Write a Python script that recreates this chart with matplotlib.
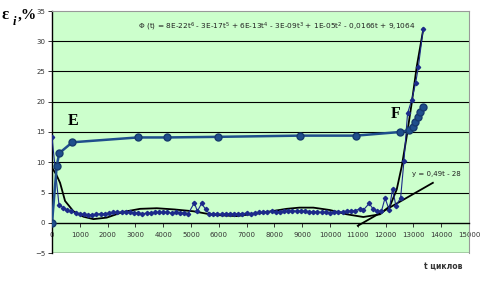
import numpy as np
import matplotlib
matplotlib.use("Agg")
import matplotlib.pyplot as plt

plt.rcParams['mathtext.default'] = 'regular'

# curve E (big markers)
e_t = [0, 170, 260, 730, 3080, 4130, 5970, 8920, 10940, 12520, 12850, 12990, 13060, 13170, 13250, 13345]
e_v = [0, 9.4, 11.5, 13.3, 14.1, 14.1, 14.2, 14.4, 14.4, 15.0, 15.3, 15.8, 16.6, 17.5, 18.3, 19.2]

# dense series (small markers)
s_t = [0, 250, 400, 550, 700, 850, 1000, 1150, 1300, 1450, 1600, 1750, 1900, 2050, 2200,
       2350, 2500, 2650, 2800, 2950, 3100, 3250, 3400, 3550, 3700, 3850, 4000, 4150, 4300,
       4450, 4600, 4750, 4900, 5120, 5230, 5380, 5530, 5660, 5800, 5950, 6100, 6250, 6400,
       6550, 6700, 6850, 7000, 7150, 7300, 7450, 7600, 7750, 7900, 8050, 8200, 8350, 8500,
       8650, 8800, 8950, 9100, 9250, 9400, 9550, 9700, 9850, 10000, 10150, 10300, 10450,
       10600, 10750, 10900, 11080, 11200, 11410, 11560, 11700, 11850, 11980, 12130, 12250,
       12370, 12540, 12660, 12790, 12940, 13080, 13180, 13350]
s_v = [14.1, 3.0, 2.5, 2.1, 1.9, 1.6, 1.4, 1.4, 1.3, 1.3, 1.4, 1.5, 1.5, 1.6, 1.7,
       1.7, 1.8, 1.7, 1.7, 1.6, 1.6, 1.5, 1.6, 1.6, 1.7, 1.7, 1.7, 1.7, 1.6,
       1.7, 1.6, 1.6, 1.5, 3.3, 1.9, 3.2, 2.2, 1.5, 1.4, 1.5, 1.4, 1.5, 1.5,
       1.4, 1.5, 1.5, 1.6, 1.5, 1.6, 1.7, 1.7, 1.8, 1.9, 1.8, 1.8, 1.9, 1.9,
       2.0, 1.9, 1.9, 1.9, 1.8, 1.8, 1.8, 1.7, 1.7, 1.6, 1.7, 1.8, 1.8,
       1.9, 1.9, 2.0, 2.3, 2.1, 3.2, 2.2, 1.9, 1.9, 4.1, 2.1, 5.6,
       2.8, 4.1, 10.2, 18.1, 20.3, 23.1, 25.8, 32.0]

# polynomial trend curve Phi(t)
p_t = [0, 150, 290, 470, 770, 1130, 1490, 1970, 2570, 3170, 3770, 4400, 5080, 5800, 6640,
       7480, 8440, 8900, 9400, 10000, 10600, 11200, 11800, 12160, 12400, 12580, 12760,
       12940, 13120, 13360]
p_v = [9.1, 8.0, 6.6, 3.6, 1.9, 1.0, 0.6, 0.85, 1.8, 2.3, 2.4, 2.2, 1.9, 1.3, 1.1,
       1.6, 2.3, 2.5, 2.5, 2.1, 1.4, 0.95, 1.4, 2.8, 5.5, 9.3, 14.3, 19.8, 25.8, 32.1]

# linear trend
l_t = [11000, 13700]
l_v = [-0.5, 6.6]

y_ticks = [-5, 0, 5, 10, 15, 20, 25, 30, 35]
x_ticks = list(range(0, 15001, 1000))

fig = plt.figure(figsize=(4.84, 2.82), dpi=100)
ax = fig.add_axes([52/484, 29/282, 417/484, 242/282])
ax.set_facecolor('#ccffcc')

for yv in [5, 10, 15, 20, 25, 30]:
    ax.axhline(yv, color='black', lw=0.8, zorder=1)
ax.axhline(-5, color='black', lw=1.0, zorder=1)

ax.plot(p_t, p_v, color='black', lw=1.3, zorder=3)
ax.plot(l_t, l_v, color='black', lw=1.3, zorder=3)
ax.plot(s_t, s_v, color='#1c2a8a', lw=0.8, marker='D', ms=2.2, mec='#1c2a8a',
        mfc='#1c2a8a', zorder=4)
ax.plot(e_t, e_v, color='#1f4e8c', lw=1.8, marker='o', ms=5, mec='#163a6e',
        mfc='#1f4e8c', zorder=5)

ax.set_xlim(0, 15000)
ax.set_ylim(-5, 35)
ax.spines['bottom'].set_position(('data', 0))
ax.spines['bottom'].set_linewidth(1.0)
ax.spines['left'].set_linewidth(1.0)
for s in ['top', 'right']:
    ax.spines[s].set_color('#999999')
    ax.spines[s].set_linewidth(0.8)

ax.set_yticks(y_ticks)
ax.set_xticks(x_ticks)
ax.tick_params(axis='both', labelsize=5, colors='#333333', length=3, width=0.7,
               direction='out', pad=2)
ax.tick_params(axis='x', pad=4)

ax.text(750, 16.9, 'E', fontsize=11.5, fontweight='bold',
        family='Liberation Serif', ha='center', va='center', zorder=6)
ax.text(12370, 17.9, 'F', fontsize=11.5, fontweight='bold',
        family='Liberation Serif', ha='center', va='center', zorder=6)

ax.text(3080, 32.3,
        'Φ (t) = 8E-22t$^{6}$ - 3E-17t$^{5}$ + 6E-13t$^{4}$ - 3E-09t$^{3}$'
        ' + 1E-05t$^{2}$ - 0,0166t + 9,1064',
        fontsize=5.3, color='#222222', va='center', ha='left')
ax.text(12950, 8.0, 'y = 0,49t - 28', fontsize=5, color='#222222', va='center', ha='left')

fig.text(443/484, 1 - 266/282, 't циклов', fontsize=5.5, fontweight='bold',
         color='#333333', ha='center', va='center')
fig.text(2/484, 1 - 15/282, 'ε', fontsize=12, fontweight='bold',
         family='Liberation Serif', ha='left', va='center')
fig.text(13/484, 1 - 22/282, 'i', fontsize=9, fontweight='bold', style='italic',
         family='Liberation Serif', ha='left', va='center')
fig.text(18/484, 1 - 15/282, ',%', fontsize=11, fontweight='bold',
         family='Liberation Serif', ha='left', va='center')

fig.savefig('out.png', dpi=100)
